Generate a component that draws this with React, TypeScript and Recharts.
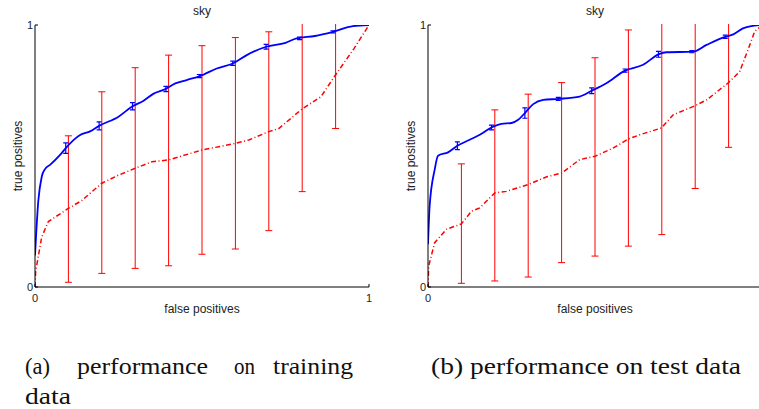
import React from 'react'
import { LineChart, Line, XAxis, YAxis, ErrorBar, Label } from 'recharts'

// (a) performance on training data
const trainBlueFpr = [0, 0.01, 0.02, 0.03, 0.045, 0.075, 0.092, 0.135, 0.165, 0.192, 0.25, 0.292, 0.324, 0.354, 0.392, 0.42, 0.454, 0.494, 0.544, 0.594, 0.634, 0.692, 0.75, 0.783, 0.838, 0.892, 0.952, 1]
const trainBlueTpr = [0.12, 0.33, 0.42, 0.45, 0.466, 0.504, 0.53, 0.58, 0.594, 0.615, 0.65, 0.69, 0.71, 0.737, 0.756, 0.777, 0.79, 0.805, 0.834, 0.854, 0.885, 0.917, 0.932, 0.949, 0.958, 0.974, 0.996, 1]
const trainRedFpr = [0, 0.002, 0.02, 0.04, 0.1, 0.14, 0.2, 0.25, 0.3, 0.35, 0.4, 0.5, 0.6, 0.64, 0.7, 0.73, 0.8, 0.856, 0.9, 0.955, 1]
const trainRedTpr = [0, 0.06, 0.19, 0.25, 0.3, 0.33, 0.396, 0.427, 0.453, 0.478, 0.485, 0.523, 0.548, 0.561, 0.593, 0.605, 0.68, 0.726, 0.81, 0.91, 1]
const trainBlueErrFpr = [0.092, 0.192, 0.292, 0.392, 0.492, 0.592, 0.692, 0.792, 0.892]
const trainBlueErrMean = [0.53, 0.615, 0.69, 0.756, 0.805, 0.854, 0.917, 0.949, 0.974]
const trainBlueErr = [0.02, 0.015, 0.014, 0.01, 0.006, 0.008, 0.009, 0.005, 0.004]
const trainRedErrFpr = [0.1, 0.2, 0.3, 0.4, 0.5, 0.6, 0.7, 0.8, 0.9]
const trainRedErrMean = [0.3, 0.396, 0.453, 0.485, 0.523, 0.548, 0.593, 0.68, 0.81]
const trainRedErrLow = [0.018, 0.052, 0.071, 0.081, 0.125, 0.145, 0.215, 0.364, 0.605]
const trainRedErrHigh = [0.577, 0.745, 0.837, 0.885, 0.921, 0.952, 0.974, 1.03, 1.05]

// (b) performance on test data
const testBlueFpr = [0, 0.005, 0.02, 0.03, 0.06, 0.088, 0.125, 0.155, 0.19, 0.22, 0.25, 0.27, 0.29, 0.315, 0.345, 0.39, 0.454, 0.49, 0.534, 0.59, 0.644, 0.69, 0.714, 0.794, 0.834, 0.89, 0.91, 0.943, 0.968, 1]
const testBlueTpr = [0.163, 0.31, 0.448, 0.501, 0.514, 0.539, 0.562, 0.581, 0.609, 0.623, 0.626, 0.638, 0.664, 0.698, 0.714, 0.718, 0.727, 0.749, 0.778, 0.826, 0.848, 0.888, 0.896, 0.898, 0.924, 0.955, 0.962, 0.987, 0.996, 1]
const testRedFpr = [0, 0.002, 0.02, 0.055, 0.1, 0.13, 0.155, 0.2, 0.235, 0.3, 0.354, 0.4, 0.454, 0.5, 0.554, 0.6, 0.634, 0.699, 0.734, 0.8, 0.834, 0.898, 0.933, 0.958, 0.978, 1]
const testRedTpr = [0, 0.08, 0.169, 0.22, 0.241, 0.289, 0.302, 0.359, 0.365, 0.391, 0.42, 0.435, 0.486, 0.499, 0.53, 0.565, 0.581, 0.607, 0.657, 0.692, 0.714, 0.778, 0.822, 0.905, 0.975, 1]
const testBlueErrFpr = [0.088, 0.19, 0.29, 0.39, 0.49, 0.59, 0.69, 0.79, 0.89]
const testBlueErrMean = [0.539, 0.609, 0.664, 0.718, 0.749, 0.826, 0.888, 0.898, 0.955]
const testBlueErr = [0.015, 0.009, 0.02, 0.006, 0.011, 0.006, 0.011, 0.004, 0.006]
const testRedErrFpr = [0.1, 0.2, 0.3, 0.4, 0.5, 0.6, 0.7, 0.8, 0.9]
const testRedErrMean = [0.241, 0.359, 0.391, 0.435, 0.499, 0.565, 0.607, 0.692, 0.778]
const testRedErrLow = [0.014, 0.023, 0.038, 0.093, 0.118, 0.156, 0.2, 0.376, 0.533]
const testRedErrHigh = [0.47, 0.676, 0.736, 0.78, 0.875, 0.981, 1.02, 1.03, 1.05]

const yTicks = [0, 1]
const trainXTicks = [0, 1]
const testXTicks = [0] // the "1" end of panel (b) falls outside the figure

const toPoints = (xs: number[], ys: number[]) => xs.map((x, i) => ({ x, y: ys[i] }))
const toErrPoints = (xs: number[], mean: number[], low: number[], high: number[]) =>
  xs.map((x, i) => ({ x, y: mean[i], err: [mean[i] - low[i], high[i] - mean[i]] }))

const BLUE = '#0000ff'
const RED = '#ff0000'
const PLOT_W = 334
const PLOT_TOP = 25

interface PanelProps {
  blue: { x: number; y: number }[]
  red: { x: number; y: number }[]
  blueErr: { x: number; y: number; err: number[] }[]
  redErr: { x: number; y: number; err: number[] }[]
  xTicks: number[]
  width: number
  yAxisWidth: number
  yLabelDx: number
}

function RocPanel({ blue, red, blueErr, redErr, xTicks, width, yAxisWidth, yLabelDx }: PanelProps) {
  // error bars running past 1 are cut at the top of the plot, like the original
  const cut = `polygon(0 0, ${yAxisWidth - 2}px 0, ${yAxisWidth - 2}px ${PLOT_TOP - 1}px, 100% ${PLOT_TOP - 1}px, 100% 100%, 0 100%)`
  return (
    <div style={{ clipPath: cut }}>
      <LineChart
        width={width}
        height={320}
        margin={{ top: PLOT_TOP, right: width - yAxisWidth - PLOT_W, bottom: 0, left: 0 }}
      >
        <XAxis
          type="number"
          dataKey="x"
          domain={[0, 1]}
          ticks={xTicks}
          interval={0}
          allowDataOverflow
          height={33}
          stroke="#000"
          tickSize={-3}
          tickMargin={10}
          tick={{ fontSize: 11, fill: '#222' }}
        >
          <Label value="false positives" position="center" dy={5} fontSize={12} fill="#222" />
        </XAxis>
        <YAxis
          type="number"
          domain={[0, 1]}
          ticks={yTicks}
          interval={0}
          allowDataOverflow
          width={yAxisWidth}
          stroke="#000"
          tickSize={-3}
          tickMargin={5}
          tick={{ fontSize: 11, fill: '#222' }}
        >
          <Label value="true positives" angle={-90} position="center" dx={yLabelDx} fontSize={12} fill="#222" />
        </YAxis>
        <Line
          data={red}
          dataKey="y"
          type="linear"
          stroke={RED}
          strokeWidth={1.5}
          strokeDasharray="5 2.5 1 2.5"
          dot={false}
          isAnimationActive={false}
        />
        <Line data={redErr} dataKey="y" stroke="none" dot={false} isAnimationActive={false}>
          <ErrorBar dataKey="err" direction="y" stroke={RED} strokeWidth={1} width={3.5} />
        </Line>
        <Line
          data={blue}
          dataKey="y"
          type="monotone"
          stroke={BLUE}
          strokeWidth={1.8}
          dot={false}
          isAnimationActive={false}
        />
        <Line data={blueErr} dataKey="y" stroke="none" dot={false} isAnimationActive={false}>
          <ErrorBar dataKey="err" direction="y" stroke={BLUE} strokeWidth={1.2} width={2.5} />
        </Line>
      </LineChart>
    </div>
  )
}

export default function App() {
  const trainBlue = toPoints(trainBlueFpr, trainBlueTpr)
  const trainRed = toPoints(trainRedFpr, trainRedTpr)
  const trainBlueBars = toErrPoints(trainBlueErrFpr, trainBlueErrMean,
    trainBlueErrMean.map((m, i) => m - trainBlueErr[i]), trainBlueErrMean.map((m, i) => m + trainBlueErr[i]))
  const trainRedBars = toErrPoints(trainRedErrFpr, trainRedErrMean, trainRedErrLow, trainRedErrHigh)

  const testBlue = toPoints(testBlueFpr, testBlueTpr)
  const testRed = toPoints(testRedFpr, testRedTpr)
  const testBlueBars = toErrPoints(testBlueErrFpr, testBlueErrMean,
    testBlueErrMean.map((m, i) => m - testBlueErr[i]), testBlueErrMean.map((m, i) => m + testBlueErr[i]))
  const testRedBars = toErrPoints(testRedErrFpr, testRedErrMean, testRedErrLow, testRedErrHigh)

  const serif = {
    style: { fontFamily: '"Liberation Serif", "Times New Roman", serif', fontSize: 23 },
    fill: '#111',
    lengthAdjust: 'spacingAndGlyphs',
  }

  return (
    <div
      style={{
        position: 'absolute',
        left: 0,
        top: 0,
        width: 759,
        height: 409,
        overflow: 'hidden',
        background: '#fff',
        fontFamily: '"Liberation Sans", Arial, sans-serif',
      }}
    >
      <div style={{ position: 'absolute', left: 0, top: 0 }}>
        <RocPanel blue={trainBlue} red={trainRed} blueErr={trainBlueBars} redErr={trainRedBars}
          xTicks={trainXTicks} width={380} yAxisWidth={35} yLabelDx={0} />
      </div>
      <div style={{ position: 'absolute', left: 380, top: 0 }}>
        <RocPanel blue={testBlue} red={testRed} blueErr={testBlueBars} redErr={testRedBars}
          xTicks={testXTicks} width={400} yAxisWidth={48} yLabelDx={6.5} />
      </div>
      <svg width={759} height={409} style={{ position: 'absolute', left: 0, top: 0, pointerEvents: 'none' }}>
        <text x={202} y={15} textAnchor="middle" fontSize={12} fill="#222">sky</text>
        <text x={595} y={15} textAnchor="middle" fontSize={12} fill="#222">sky</text>
        <text x={25} y={374} textLength={25} {...serif}>(a)</text>
        <text x={77} y={374} textLength={131} {...serif}>performance</text>
        <text x={234} y={374} textLength={21} {...serif}>on</text>
        <text x={273} y={374} textLength={80} {...serif}>training</text>
        <text x={25} y={404} textLength={46} {...serif}>data</text>
        <text x={431} y={374} textLength={310} {...serif}>(b) performance on test data</text>
      </svg>
    </div>
  )
}
